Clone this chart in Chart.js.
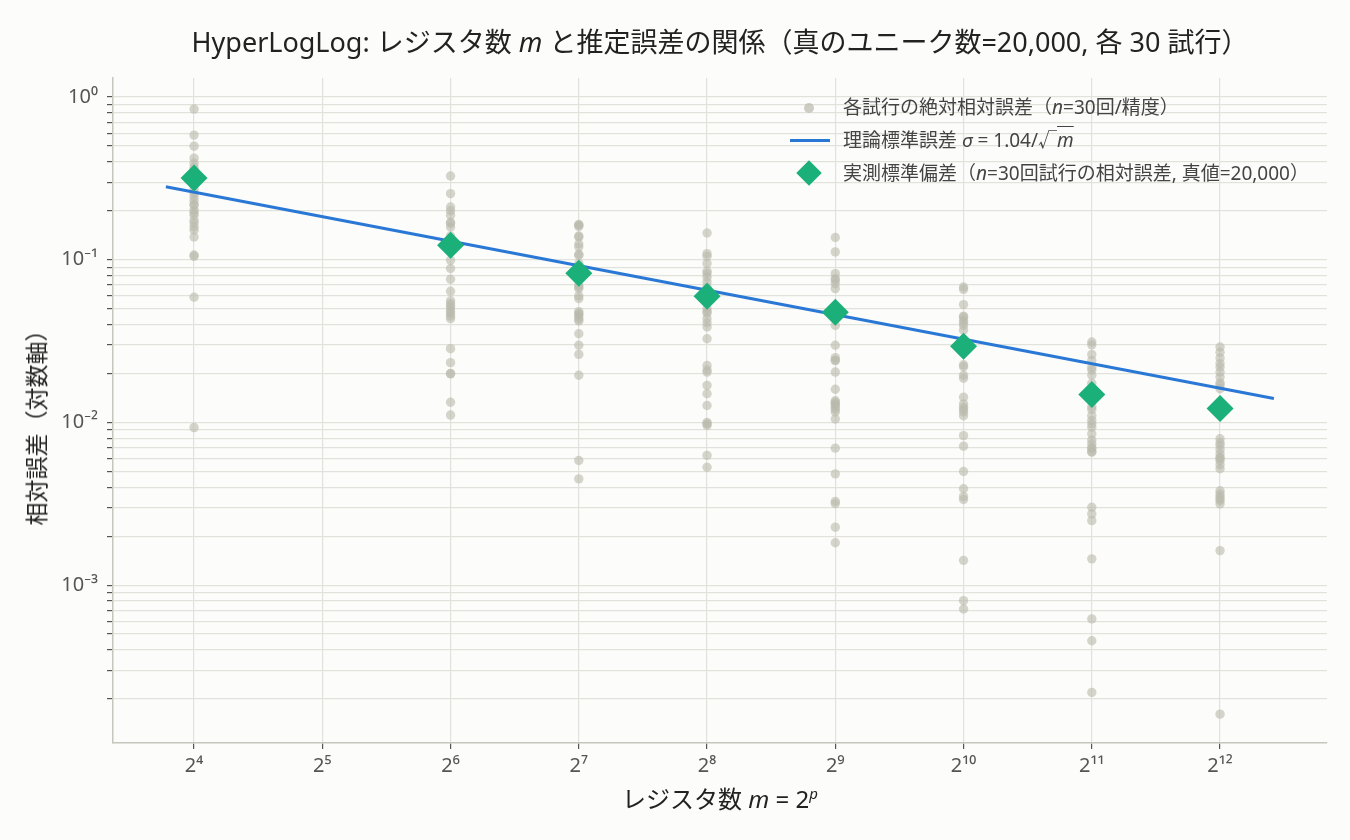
<!DOCTYPE html>
<html lang="ja">
<head>
<meta charset="utf-8">
<title>HyperLogLog レジスタ数と推定誤差</title>
<script src="https://cdn.jsdelivr.net/npm/chart.js@4.4.1/dist/chart.umd.min.js"></script>
<style>
  body { margin: 0; background: #fcfcfa; }
  #wrap { position: relative; width: 1350px; height: 840px; font-family: "Noto Sans", "Noto Sans CJK JP", sans-serif; }
  #chart { position: absolute; left: 0; top: 0; }
  #title { position: absolute; left: 113px; width: 1214px; top: 21px; text-align: center; font-size: 27px; color: #222; white-space: nowrap; }
  #xlabel { position: absolute; left: 113px; width: 1214px; top: 780px; text-align: center; font-size: 24px; color: #222; }
  #xlabel sup { font-size: 15px; }
  #ylabel { position: absolute; left: 35px; top: 422px; transform: translate(-50%, -50%) rotate(-90deg); font-size: 23px; color: #222; white-space: nowrap; }
  #legend { position: absolute; left: 786px; top: 92px; font-size: 19px; color: #444; }
  .item { position: relative; height: 33px; line-height: 30px; padding-left: 57px; white-space: nowrap; }
  .mk { position: absolute; }
  .dot { left: 18px; top: 11px; width: 10px; height: 10px; border-radius: 50%; background: rgba(185,185,172,0.7); }
  .ln { left: 4px; top: 14px; width: 40px; height: 3px; background: #2a78d6; }
  .dia { left: 14px; top: 6px; width: 18px; height: 18px; background: #1bb07a; transform: rotate(45deg); }
  .ov { text-decoration: overline; }
</style>
</head>
<body>
<div id="wrap">
  <canvas id="chart" width="1350" height="840"></canvas>
  <div id="title">HyperLogLog: レジスタ数 <i>m</i> と推定誤差の関係（真のユニーク数=20,000, 各 30 試行）</div>
  <div id="ylabel">相対誤差（対数軸）</div>
  <div id="xlabel">レジスタ数 <i>m</i> = 2<sup><i>p</i></sup></div>
  <div id="legend">
    <div class="item"><span class="mk dot"></span>各試行の絶対相対誤差（<i>n</i>=30回/精度）</div>
    <div class="item"><span class="mk ln"></span>理論標準誤差 <i>σ</i> = 1.04/√<span class="ov"><i>m</i></span></div>
    <div class="item"><span class="mk dia"></span>実測標準偏差（<i>n</i>=30回試行の相対誤差, 真値=20,000）</div>
  </div>
</div>
<script>
// 精度 p（m = 2^p）
const precisions = [4, 6, 7, 8, 9, 10, 11, 12];

// 各精度 30 試行の絶対相対誤差
const trialErrors = [
  [0.844, 0.584, 0.499, 0.421, 0.392, 0.37, 0.355, 0.33, 0.31, 0.3, 0.29, 0.287, 0.27, 0.257, 0.245,
   0.232, 0.22, 0.216, 0.202, 0.195, 0.188, 0.175, 0.168, 0.159, 0.152, 0.138, 0.107, 0.105, 0.0588, 0.0093],
  [0.327, 0.255, 0.211, 0.2, 0.188, 0.17, 0.167, 0.159, 0.14, 0.13, 0.12, 0.115, 0.0993, 0.0883, 0.0759,
   0.064, 0.056, 0.0537, 0.052, 0.0501, 0.048, 0.0467, 0.045, 0.0435, 0.0284, 0.0233, 0.02, 0.0199, 0.0133, 0.0111],
  [0.165, 0.163, 0.16, 0.14, 0.138, 0.125, 0.12, 0.108, 0.1066, 0.095, 0.09, 0.085, 0.075, 0.07, 0.068,
   0.0665, 0.06, 0.0577, 0.048, 0.0467, 0.046, 0.0445, 0.043, 0.042, 0.0351, 0.0298, 0.0262, 0.0195, 0.00583, 0.0045],
  [0.146, 0.109, 0.105, 0.0947, 0.085, 0.0822, 0.078, 0.073, 0.068, 0.065, 0.058, 0.055, 0.05, 0.048, 0.047,
   0.0435, 0.041, 0.0386, 0.0327, 0.0224, 0.021, 0.0204, 0.0169, 0.015, 0.0127, 0.01, 0.0098, 0.0096, 0.00627, 0.0053],
  [0.137, 0.1117, 0.0822, 0.0766, 0.075, 0.0714, 0.0665, 0.052, 0.048, 0.0395, 0.0298, 0.025, 0.0241, 0.024, 0.0204,
   0.016, 0.0136, 0.0133, 0.013, 0.0128, 0.0124, 0.012, 0.0116, 0.0105, 0.00695, 0.00483, 0.00327, 0.00317, 0.00227, 0.00182],
  [0.068, 0.0658, 0.053, 0.045, 0.0445, 0.0425, 0.041, 0.0395, 0.0369, 0.032, 0.028, 0.0226, 0.022, 0.0195, 0.0187,
   0.0143, 0.013, 0.0124, 0.012, 0.0116, 0.011, 0.0083, 0.00715, 0.00499, 0.00391, 0.0035, 0.00336, 0.00142, 0.000803, 0.000713],
  [0.0312, 0.03, 0.0262, 0.024, 0.0218, 0.021, 0.0195, 0.0174, 0.016, 0.014, 0.0125, 0.012, 0.011, 0.0103, 0.0098,
   0.00935, 0.0085, 0.0078, 0.0074, 0.007, 0.0069, 0.0066, 0.00657, 0.00301, 0.00274, 0.00249, 0.00145, 0.00062, 0.000455, 0.000219],
  [0.0291, 0.027, 0.0249, 0.023, 0.0219, 0.0204, 0.019, 0.0175, 0.017, 0.0161, 0.013, 0.0115, 0.00794, 0.0075, 0.00722,
   0.0068, 0.00641, 0.0061, 0.006, 0.00583, 0.0055, 0.00519, 0.0038, 0.00364, 0.0035, 0.00339, 0.0033, 0.00316, 0.00163, 0.000161]
];

// 実測標準偏差
const measuredStd = [0.318, 0.1228, 0.0826, 0.0596, 0.0475, 0.0294, 0.01487, 0.01219];

// 理論線 σ = 1.04/√m の両端
const theoryP = [3.78, 12.42];
const theorySigma = [0.281, 0.01405];

const xTickPowers = [4, 5, 6, 7, 8, 9, 10, 11, 12];
const xTickLabels = ['2⁴', '2⁵', '2⁶', '2⁷', '2⁸', '2⁹', '2¹⁰', '2¹¹', '2¹²'];
const yMajorTicks = [1, 0.1, 0.01, 0.001];
const yTickLabels = ['10⁰', '10⁻¹', '10⁻²', '10⁻³'];

const xMin = 3.368, xMax = 12.834;
const yMin = 1.07e-4, yMax = 1.31;

const trialPoints = precisions.flatMap((p, i) => trialErrors[i].map(v => ({ x: p, y: v })));
const stdPoints = precisions.map((p, i) => ({ x: p, y: measuredStd[i] }));
const theoryPoints = theoryP.map((p, i) => ({ x: p, y: theorySigma[i] }));

const gridColor = '#e2e2dc';
const spineColor = '#c6c6be';

new Chart(document.getElementById('chart'), {
  type: 'scatter',
  data: {
    datasets: [
      {
        label: '実測標準偏差',
        data: stdPoints,
        pointStyle: 'rectRot',
        pointRadius: 13.5,
        pointHoverRadius: 13.5,
        backgroundColor: '#1bb07a',
        borderColor: '#1bb07a',
        borderWidth: 0,
        order: 1
      },
      {
        label: '理論標準誤差',
        type: 'line',
        data: theoryPoints,
        borderColor: '#2a78d6',
        borderWidth: 3,
        pointRadius: 0,
        fill: false,
        order: 2
      },
      {
        label: '各試行の絶対相対誤差',
        data: trialPoints,
        pointRadius: 4.7,
        pointHoverRadius: 4.7,
        backgroundColor: 'rgba(185,185,172,0.6)',
        borderWidth: 0,
        order: 3
      }
    ]
  },
  options: {
    responsive: false,
    animation: false,
    layout: { padding: { top: 78, right: 23, left: 0, bottom: 0 } },
    plugins: {
      legend: { display: false },
      tooltip: { enabled: false }
    },
    scales: {
      x: {
        type: 'linear',
        min: xMin,
        max: xMax,
        afterFit: s => { s.height = 97; },
        afterBuildTicks: s => { s.ticks = xTickPowers.map(v => ({ value: v })); },
        grid: { color: gridColor, lineWidth: 1.2, tickColor: '#555', tickLength: 6 },
        border: { color: spineColor, width: 1.5 },
        ticks: {
          autoSkip: false,
          maxRotation: 0,
          padding: 5,
          color: '#555',
          font: { family: 'Noto Sans', size: 20 },
          callback: v => {
            const i = xTickPowers.indexOf(v);
            return i >= 0 ? xTickLabels[i] : '';
          }
        }
      },
      y: {
        type: 'logarithmic',
        min: yMin,
        max: yMax,
        afterFit: s => { s.width = 113; },
        afterBuildTicks: s => {
          const t = [];
          [1, 0.1, 0.01, 0.001, 0.0001].forEach(d => {
            for (let k = 1; k <= 9; k++) {
              const v = d * k;
              if (v >= yMin && v <= yMax) t.push({ value: v });
            }
          });
          s.ticks = t;
        },
        grid: { color: gridColor, lineWidth: 1.2, tickColor: '#555', tickLength: 6 },
        border: { color: spineColor, width: 1.5 },
        ticks: {
          autoSkip: false,
          padding: 9,
          color: '#555',
          font: { family: 'Noto Sans', size: 20 },
          callback: v => {
            const i = yMajorTicks.findIndex(m => Math.abs(v - m) / m < 1e-6);
            return i >= 0 ? yTickLabels[i] : '';
          }
        }
      }
    }
  }
});
</script>
</body>
</html>
